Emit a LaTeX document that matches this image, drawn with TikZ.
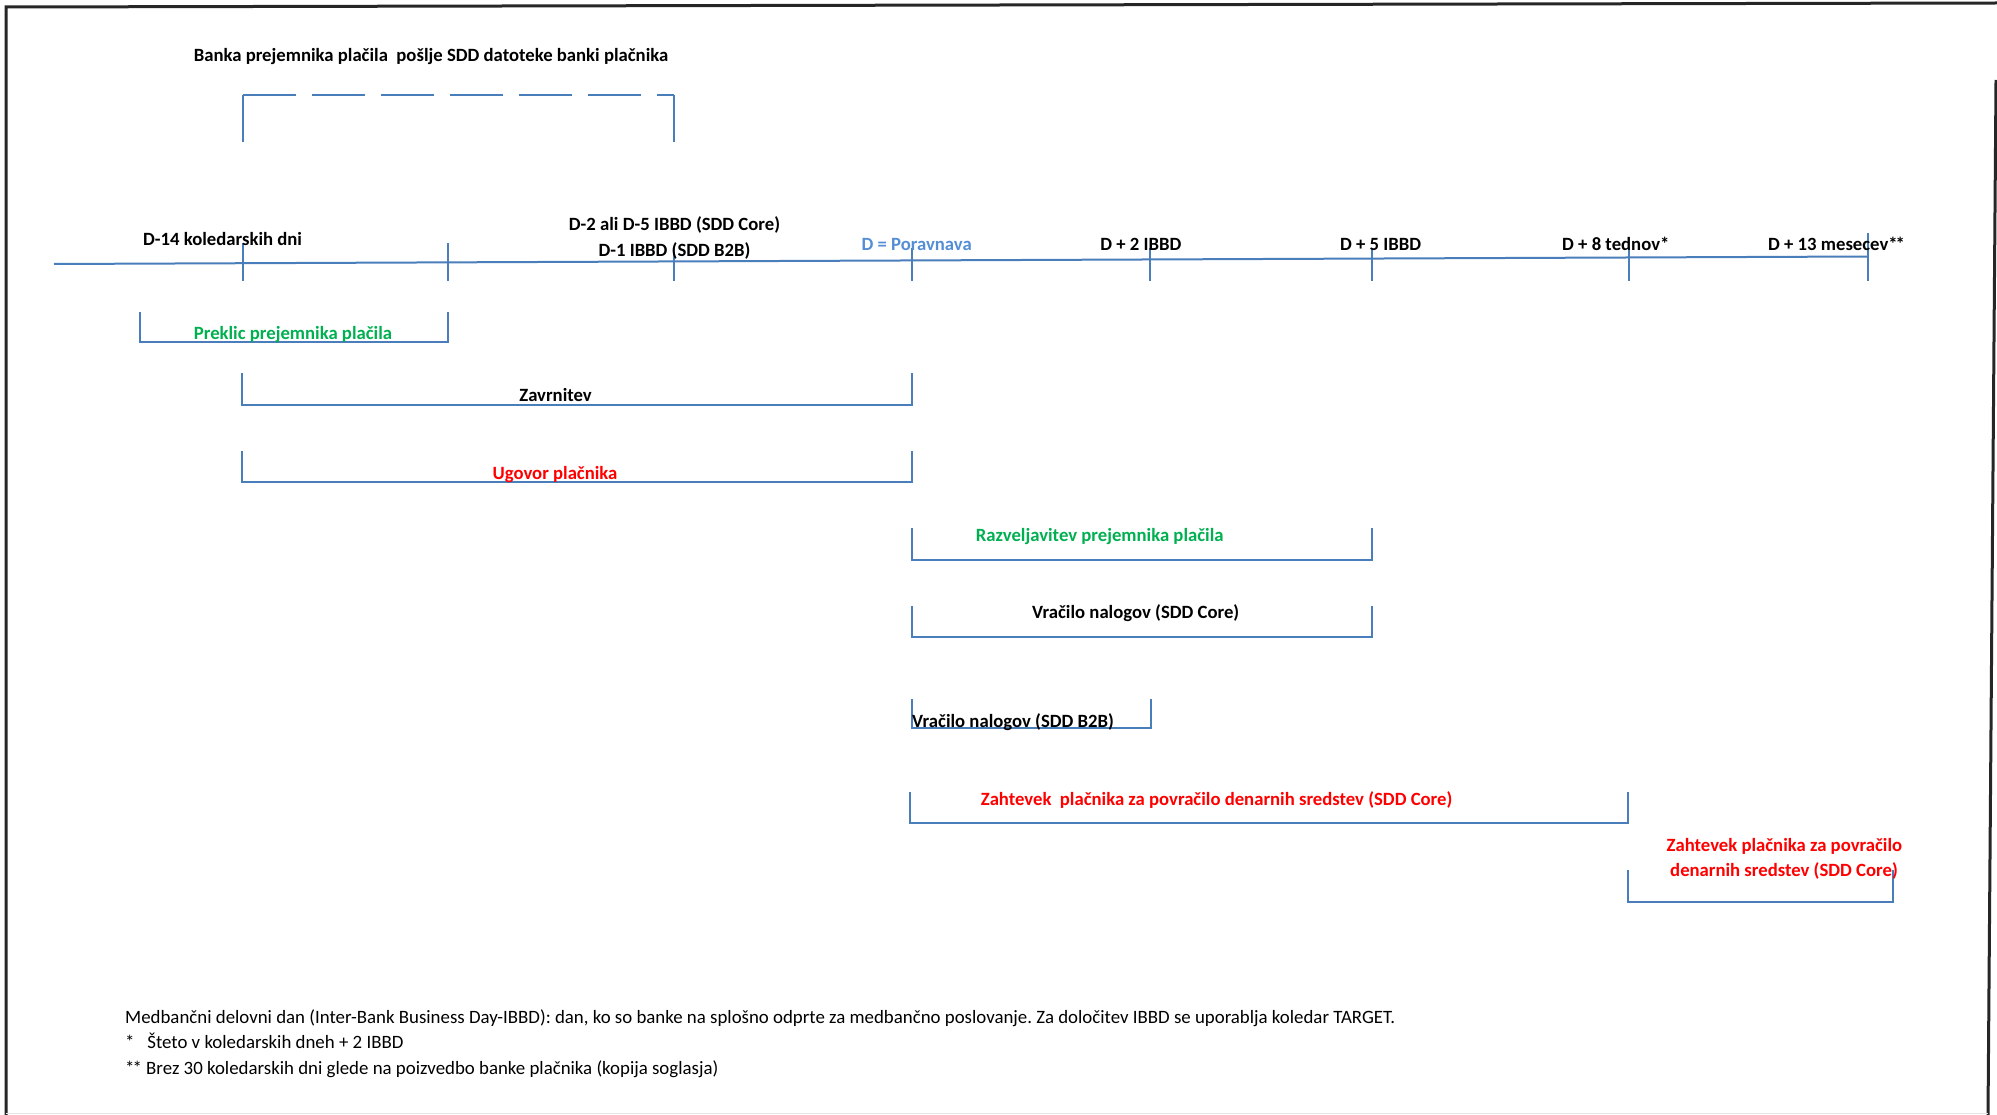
\documentclass[tikz,border=0pt]{standalone}
\usepackage{fontspec}
\setmainfont{Carlito}
\frenchspacing
\definecolor{lineblue}{RGB}{74,126,187}
\definecolor{dayblue}{RGB}{85,142,213}
\definecolor{okgreen}{RGB}{0,176,80}
\definecolor{alertred}{RGB}{255,0,0}

\begin{document}
\begin{tikzpicture}[x=1pt,y=-1pt,
  line/.style={draw=lineblue,line width=2pt},
  lbl/.style={font=\fontsize{18.7}{22}\selectfont\bfseries,inner sep=0pt,anchor=base},
  note/.style={font=\fontsize{18.85}{22}\selectfont,inner sep=0pt,anchor=base west}]
  % Configurable parameters
  \def\dday{912}
  \def\tickbot{281}
  %
  % Frame
  \useasboundingbox (0,0) rectangle (1997,1115);
  \draw[line width=3pt,black!85] (6,1115) -- (6,7) -- (1997,3);
  \draw[line width=3pt,black!85] (1996,80) -- (1988,1115);
  \draw[line width=1pt,black!10] (6,1113) -- (1988,1113);
  %
  % Header bracket
  \node[lbl] (banka) at (431,62) {Banka prejemnika plačila\ \ pošlje SDD datoteke banki plačnika};
  \draw[line] (243,142) -- (243,95);
  \draw[line,dash pattern=on 53pt off 16pt] (243,95) -- (674,95);
  \draw[line] (674,95) -- (674,142);
  %
  % Timeline
  \draw[line] (54,264) -- (1868,256.5);
  \draw[line] (243,243) -- (243,\tickbot);
  \draw[line] (448,243) -- (448,\tickbot);
  \draw[line] (673.5,248) -- (673.5,\tickbot);
  \draw[line] (\dday,248) -- (\dday,\tickbot);
  \draw[line] (1149.5,248) -- (1149.5,\tickbot);
  \draw[line] (1372,248) -- (1372,\tickbot);
  \draw[line] (1629,248) -- (1629,\tickbot);
  \draw[line] (1868,233) -- (1868,\tickbot);
  \node[lbl] (dminus14) at (222.6,246) {D-14 koledarskih dni};
  \node[lbl] (dminus2) at (674.5,231) {D-2 ali D-5 IBBD (SDD Core)};
  \node[lbl] (dminus1) at (674.5,256.5) {D-1 IBBD (SDD B2B)};
  \node[lbl,text=dayblue] (dzero) at (916.7,251) {D = Poravnava};
  \node[lbl] (dplus2) at (1140.8,251) {D + 2 IBBD};
  \node[lbl] (dplus5) at (1380.6,251) {D + 5 IBBD};
  \node[lbl] (dplus8) at (1615.8,251) {D + 8 tednov*};
  \node[lbl] (dplus13) at (1836.6,251) {D + 13 mesecev*\kern-2pt*};
  %
  % Periods
  \draw[line] (140,312) |- (448,342) -- (448,312);
  \node[lbl,text=okgreen] (preklic) at (293,339.3) {Preklic prejemnika plačila};
  \draw[line] (242,373) |- (\dday,405) -- (\dday,373);
  \node[lbl] (zavrnitev) at (555.6,401.7) {Zavrnitev};
  \draw[line] (242,451) |- (\dday,482) -- (\dday,451);
  \node[lbl,text=alertred] (ugovor) at (555,479) {Ugovor plačnika};
  \draw[line] (\dday,528) |- (1372,560) -- (1372,528);
  \node[lbl,text=okgreen] (razvel) at (1099.7,541.7) {Razveljavitev prejemnika plačila};
  \draw[line] (\dday,606) |- (1372,637) -- (1372,606);
  \node[lbl] (vracilocore) at (1135.7,618.3) {Vračilo nalogov (SDD Core)};
  \draw[line] (\dday,699) |- (1151,728) -- (1151,699);
  \node[lbl,anchor=base west] (vracilob2b) at (\dday,727.3) {Vračilo nalogov (SDD B2B)};
  \draw[line] (910,792) |- (1628,823) -- (1628,792);
  \node[lbl,text=alertred] (zahtevek) at (1216.6,805.7) {Zahtevek\ \ plačnika za povračilo denarnih sredstev (SDD Core)};
  \draw[line] (1628,870) |- (1893,902) -- (1893,870);
  \node[lbl,text=alertred] (zahtevekA) at (1784.4,851.7) {Zahtevek plačnika za povračilo};
  \node[lbl,text=alertred] (zahtevekB) at (1784,876.7) {denarnih sredstev (SDD Core)};
  %
  % Notes
  \node[note] (ibbd) at (125,1023) {Medbančni delovni dan (Inter-Bank Business Day-IBBD): dan, ko so banke na splošno odprte za medbančno poslovanje. Za določitev IBBD se uporablja koledar TARGET.};
  \node[note] (star) at (125,1048.5) {*\ \ \ Šteto v koledarskih dneh + 2 IBBD};
  \node[note] (twostar) at (125,1074) {*\kern-2pt* Brez 30 koledarskih dni glede na poizvedbo banke plačnika (kopija soglasja)};
\end{tikzpicture}
\end{document}
